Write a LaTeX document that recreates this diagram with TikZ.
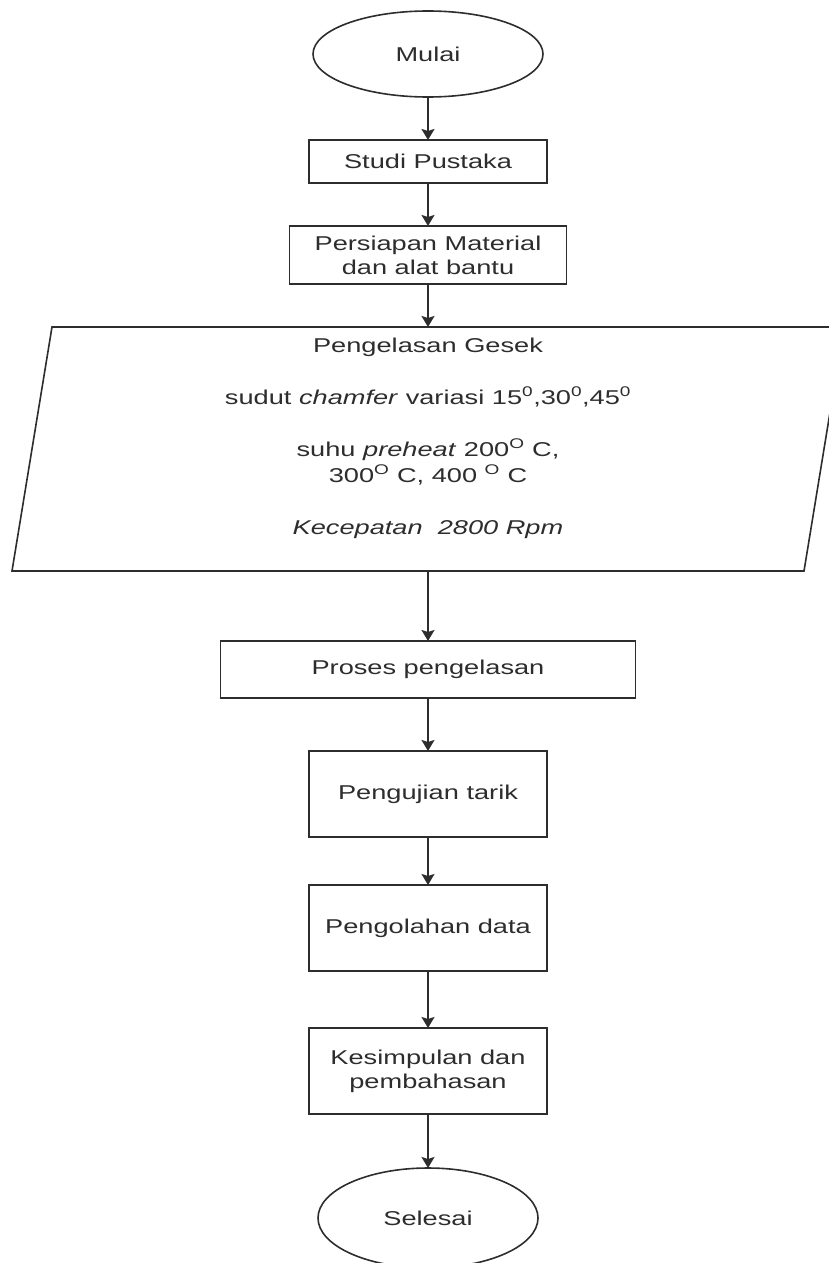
\documentclass[tikz,border=0pt]{standalone}
\usepackage{fontspec}
\setmainfont{Liberation Sans}[FakeStretch=1.36]
\definecolor{flowgray}{RGB}{45,45,45}
\tikzset{every picture/.style={/utils/exec={\fontsize{20}{24}\selectfont}}}
\usetikzlibrary{positioning}
\usetikzlibrary{shapes.geometric,arrows.meta}

\begin{document}
\begin{tikzpicture}[x=1pt,y=-1pt,node distance=43pt,
  every node/.style={draw=flowgray,line width=1.6pt,text=flowgray,outer sep=0pt,align=center},
  terminal/.style={ellipse,minimum width=230pt,minimum height=86pt},
  process/.style={rectangle,minimum width=238pt,minimum height=86pt},
  flow/.style={-{Stealth[length=11pt,width=13pt,inset=2pt]},line width=1.6pt,draw=flowgray}]
  \useasboundingbox (0,0) rectangle (829,1263);

  \node [terminal] (mulai) at (428,54) {Mulai};
  \node [process,below=of mulai,minimum height=43pt] (studi) {Studi Pustaka};
  \node [process,below=of studi,minimum width=277pt,minimum height=58pt] (persiapan) {Persiapan Material\\dan alat bantu};

  \node [below=of persiapan,draw=none,minimum width=792pt,minimum height=244pt,
         font=\fontsize{20}{26}\selectfont] (gesek)
    {Pengelasan Gesek\\[26pt]
     sudut \textit{chamfer} variasi 15\textsuperscript{0},30\textsuperscript{0},45\textsuperscript{0}\\[26pt]
     suhu \textit{preheat} 200\textsuperscript{O} C,\\
     300\textsuperscript{O} C, 400 \textsuperscript{O} C\\[26pt]
     \textit{Kecepatan\ \ 2800 Rpm}\\ \mbox{}};

  \node [process,below=70pt of gesek,minimum width=415pt,minimum height=57pt] (proses) {Proses pengelasan};
  \node [process,below=53pt of proses] (pengujian) {Pengujian tarik};
  \node [process,below=48pt of pengujian] (pengolahan) {Pengolahan data};
  \node [process,below=57pt of pengolahan] (kesimpulan) {Kesimpulan dan\\pembahasan};
  \node [terminal,below=54pt of kesimpulan,minimum width=220pt,minimum height=100pt] (selesai) {Selesai};

  % parallelogram round the input block
  \draw [draw=flowgray,line width=1.6pt] ([xshift=20pt]gesek.north west) -- ([xshift=20pt]gesek.north east)
    -- ([xshift=-20pt]gesek.south east) -- ([xshift=-20pt]gesek.south west) -- cycle;

  \draw [flow] (mulai) -- (studi);
  \draw [flow] (studi) -- (persiapan);
  \draw [flow] (persiapan) -- (gesek);
  \draw [flow] (gesek) -- (proses);
  \draw [flow] (proses) -- (pengujian);
  \draw [flow] (pengujian) -- (pengolahan);
  \draw [flow] (pengolahan) -- (kesimpulan);
  \draw [flow] (kesimpulan) -- (selesai);
\end{tikzpicture}
\end{document}
